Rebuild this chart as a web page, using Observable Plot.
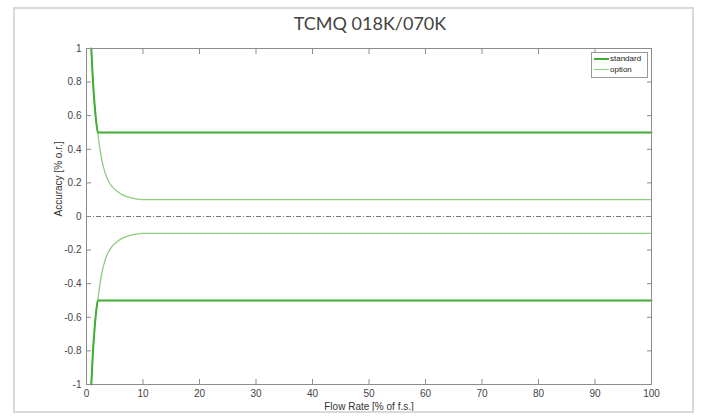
<!DOCTYPE html>
<html>
<head>
<meta charset="utf-8">
<script src="https://cdn.jsdelivr.net/npm/d3@7"></script>
<script src="https://cdn.jsdelivr.net/npm/@observablehq/plot@0.6"></script>
<style>
  html, body { margin: 0; padding: 0; background: #fff; }
  #wrap { position: relative; width: 701px; height: 418px; overflow: hidden; }
  #border { position: absolute; left: 13px; top: 7px; width: 677px; height: 402px; border: 2px solid #d9d9d9; }
  #title { position: absolute; left: 0; top: 12px; width: 740px; text-align: center; font-family: Lato, "Open Sans", sans-serif; font-size: 18px; color: #444; }
  #legend { position: absolute; left: 591px; top: 52px; width: 55px; height: 24px; border: 1px solid #999; background: #fff; font-family: "Liberation Sans", Arial, sans-serif; font-size: 8px; color: #222; }
  #legend div { position: relative; height: 11px; line-height: 11px; padding-left: 18px; }
  #legend span { position: absolute; left: 2px; top: 5px; width: 15px; }
  #chart { position: absolute; left: 0; top: 0; }
</style>
</head>
<body>
<div id="wrap">
  <div id="chart"></div>
  <div id="border"></div>
  <div id="title">TCMQ 018K/070K</div>
  <div id="legend"></div>
</div>
<script>
// Series (flow rate % of f.s. -> accuracy % o.r.)
const seriesNames = ["standard", "option"];
const seriesColors = ["#3fae35", "#8ccf7e"];
const seriesWidths = [2, 1.3];

const standardX = [0.85, 1.1, 1.4, 1.7, 2, 100];
const standardY = [1, 0.83, 0.68, 0.57, 0.5, 0.5];

const optionX = [0.85, 1.1, 1.4, 1.7, 2, 2.3, 2.75, 3.3, 3.9, 4.6, 5.4, 6.3, 7.3, 8.5, 10, 100];
const optionY = [1, 0.83, 0.68, 0.57, 0.5, 0.42, 0.33, 0.26, 0.21, 0.175, 0.15, 0.13, 0.117, 0.106, 0.1, 0.1];

const xTicks = [0, 10, 20, 30, 40, 50, 60, 70, 80, 90, 100];
const yTicks = [-1, -0.8, -0.6, -0.4, -0.2, 0, 0.2, 0.4, 0.6, 0.8, 1];

function rows(xs, ys, sign, name) {
  return xs.map((x, i) => ({x, y: sign * ys[i], name, key: name + sign}));
}
const data = [
  ...rows(optionX, optionY, 1, "option"),
  ...rows(optionX, optionY, -1, "option"),
  ...rows(standardX, standardY, 1, "standard"),
  ...rows(standardX, standardY, -1, "standard")
];

const fmt = d => d === 0 ? "0" : String(d);
const tickFont = {fontSize: 10, fill: "#444"};

const chart = Plot.plot({
  width: 701,
  height: 418,
  marginLeft: 86,
  marginRight: 50,
  marginTop: 48,
  marginBottom: 34,
  style: {fontFamily: "'Liberation Sans', Arial, sans-serif", background: "transparent"},
  x: {domain: [0, 100], label: null},
  y: {domain: [-1, 1], label: null},
  marks: [
    Plot.ruleY([0], {stroke: "#555", strokeWidth: 0.8, strokeDasharray: "5,2,1,2"}),
    Plot.line(data.filter(d => d.name === "option"), {x: "x", y: "y", z: "key", stroke: seriesColors[1], strokeWidth: seriesWidths[1], curve: "monotone-x"}),
    Plot.line(data.filter(d => d.name === "standard"), {x: "x", y: "y", z: "key", stroke: seriesColors[0], strokeWidth: seriesWidths[0], curve: "monotone-x"}),
    Plot.frame({stroke: "#8c8c8c", strokeWidth: 1}),
    Plot.axisX(xTicks, {anchor: "bottom", tickSize: -5, text: null, stroke: "#8c8c8c"}),
    Plot.axisX(xTicks, {anchor: "top", tickSize: -5, text: null, stroke: "#8c8c8c"}),
    Plot.axisY(yTicks, {anchor: "left", tickSize: -5, text: null, stroke: "#8c8c8c"}),
    Plot.axisY(yTicks, {anchor: "right", tickSize: -5, text: null, stroke: "#8c8c8c"}),
    Plot.axisX(xTicks, {anchor: "bottom", tickSize: 0, tickPadding: 5, tickFormat: fmt, label: null, ...tickFont}),
    Plot.axisY(yTicks, {anchor: "left", tickSize: 0, tickPadding: 5, tickFormat: fmt, label: null, ...tickFont}),
    Plot.text(["Flow Rate [% of f.s.]"], {frameAnchor: "bottom", dy: 25, fontSize: 10, fill: "#333"}),
    Plot.text(["Accuracy [% o.r.]"], {frameAnchor: "left", dx: -28, rotate: -90, fontSize: 10, fill: "#333"})
  ]
});
document.getElementById("chart").appendChild(chart);

const legend = document.getElementById("legend");
seriesNames.forEach((n, i) => {
  const row = document.createElement("div");
  row.textContent = n;
  const sw = document.createElement("span");
  sw.style.borderTop = `${seriesWidths[i]}px solid ${seriesColors[i]}`;
  row.appendChild(sw);
  legend.appendChild(row);
});
</script>
</body>
</html>
